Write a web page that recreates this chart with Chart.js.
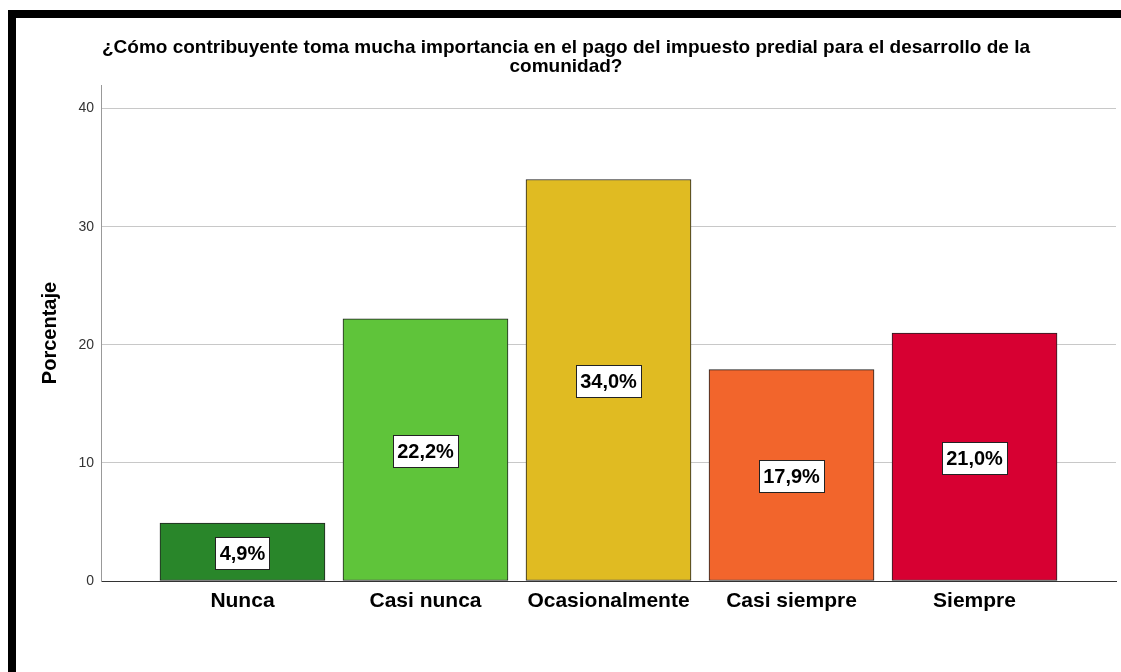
<!DOCTYPE html>
<html>
<head>
<meta charset="utf-8">
<script src="https://cdn.jsdelivr.net/npm/chart.js@4.4.1/dist/chart.umd.min.js"></script>
<style>
  html, body { margin: 0; padding: 0; background: #fff; }
  #frame {
    position: absolute; left: 8px; top: 10px;
    width: 1113px; height: 662px; box-sizing: border-box;
    border-top: 8px solid #000; border-left: 8px solid #000;
  }
  canvas { display: block; }
</style>
</head>
<body>
<div id="frame"><canvas id="chart" width="1105" height="654"></canvas></div>
<script>
/* data */
const categories = ['Nunca', 'Casi nunca', 'Ocasionalmente', 'Casi siempre', 'Siempre'];
const percentages = [4.9, 22.2, 34.0, 17.9, 21.0];
const barColors = ['#29862a', '#5fc43a', '#e0bb22', '#f2652c', '#d70032'];
const yTicks = [0, 10, 20, 30, 40];
const titleLines = [
  '¿Cómo contribuyente toma mucha importancia en el pago del impuesto predial para el desarrollo de la',
  'comunidad?'
];

const FONT = '"Liberation Sans", Arial, sans-serif';

// white boxed percentage in the middle of each bar
const valueLabels = {
  id: 'valueLabels',
  afterDatasetsDraw(chart) {
    const ctx = chart.ctx;
    const meta = chart.getDatasetMeta(0);
    ctx.save();
    ctx.font = 'bold 20px ' + FONT;
    ctx.textAlign = 'center';
    ctx.textBaseline = 'middle';
    meta.data.forEach((bar, i) => {
      const txt = percentages[i].toFixed(1).replace('.', ',') + '%';
      const w = Math.round(ctx.measureText(txt).width + 8);
      const h = 32;
      const x0 = Math.round(bar.x - w / 2) + 0.5;
      const y0 = Math.round((bar.y + bar.base) / 2 + 1 - h / 2) + 0.5;
      ctx.fillStyle = '#fff';
      ctx.fillRect(x0, y0, w, h);
      ctx.strokeStyle = '#222';
      ctx.lineWidth = 1;
      ctx.strokeRect(x0, y0, w, h);
      ctx.fillStyle = '#000';
      ctx.fillText(txt, bar.x, y0 + h / 2 + 1);
    });
    ctx.restore();
  }
};

new Chart(document.getElementById('chart'), {
  type: 'bar',
  data: {
    datasets: [{
      label: 'Porcentaje',
      data: percentages.map((v, i) => ({ x: i, y: v })),
      backgroundColor: barColors,
      borderColor: '#222',
      borderWidth: 1,
      borderSkipped: false,
      barThickness: 165
    }]
  },
  options: {
    responsive: false,
    animation: false,
    layout: { padding: { left: 0, right: 5, top: 0, bottom: 0 } },
    plugins: {
      legend: { display: false },
      tooltip: { enabled: false },
      title: {
        display: true,
        text: titleLines,
        color: '#000',
        font: { family: FONT, size: 19, weight: 'bold', lineHeight: 1.0 },
        padding: { top: 20, bottom: 9 }
      }
    },
    scales: {
      x: {
        type: 'linear',
        offset: false,
        min: -0.773,
        max: 4.773,
        afterBuildTicks: s => { s.ticks = categories.map((c, i) => ({ value: i })); },
        afterFit: s => { s.height = 91; },
        grid: { display: false, drawTicks: false, offset: false },
        border: { display: true, color: '#333', width: 1 },
        ticks: {
          autoSkip: false,
          maxRotation: 0,
          padding: 8,
          color: '#000',
          font: { family: FONT, size: 21, weight: 'bold' },
          callback: v => categories[v]
        }
      },
      y: {
        min: 0,
        max: 42,
        afterBuildTicks: s => { s.ticks = yTicks.map(v => ({ value: v })); },
        afterFit: s => { s.width = 85; },
        grid: { color: '#c8c8c8', lineWidth: 1, drawTicks: false },
        border: { display: true, color: '#999', width: 1 },
        ticks: {
          padding: 7,
          color: '#333',
          font: { family: FONT, size: 14 }
        },
        title: {
          display: true,
          text: 'Porcentaje',
          color: '#000',
          font: { family: FONT, size: 20, weight: 'bold' },
          padding: { top: 22, bottom: 0 }
        }
      }
    }
  },
  plugins: [valueLabels]
});
</script>
</body>
</html>
